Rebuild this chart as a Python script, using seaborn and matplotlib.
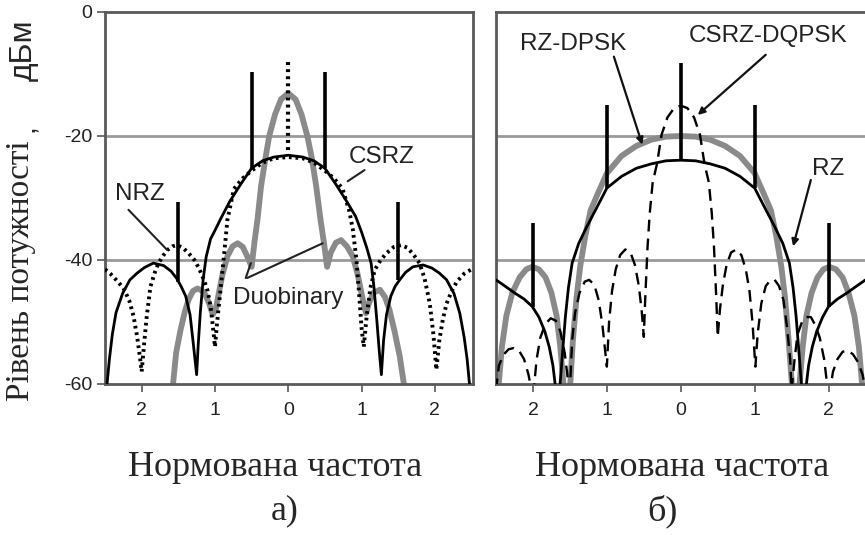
import numpy as np
import pandas as pd
import matplotlib
matplotlib.use("Agg")
import matplotlib.pyplot as plt
import seaborn as sns

# ---------------- data ----------------
# Panel a)
csrz_x = [-2.48, -2.44, -2.40, -2.35, -2.26, -2.16, -2.06, -1.96, -1.84, -1.70, -1.60, -1.52, -1.46, -1.40, -1.34, -1.30, -1.25,
          -1.23, -1.20, -1.16, -1.12, -1.06, -0.99, -0.92, -0.80, -0.65, -0.50, -0.35, -0.20, 0.00,
          0.20, 0.35, 0.50, 0.65, 0.80, 0.92, 1.00, 1.07, 1.13, 1.17, 1.21, 1.24, 1.27,
          1.30, 1.34, 1.40, 1.46, 1.52, 1.60, 1.70, 1.84, 1.96, 2.06, 2.16, 2.26, 2.34, 2.40, 2.44, 2.48]
csrz_y = [-61, -56, -52, -48.5, -45.4, -43.2, -42.1, -41.2, -40.5, -40.9, -41.8, -43.0, -44.3, -45.8, -48.8, -53, -58.5,
          -54, -48.5, -43, -39.5, -36.6, -35.0, -33.3, -30.6, -27.8, -25.2, -24.0, -23.4, -23.1,
          -23.4, -24.0, -25.2, -27.8, -30.6, -33.0, -35.5, -38.0, -40.5, -44.5, -50, -54.5, -58.5,
          -53, -48.8, -45.8, -44.2, -43.2, -42.0, -41.1, -40.8, -41.3, -42.1, -43.2, -45.4, -48.6, -52.5, -56, -61]
csrz_spike_x = [-1.5, -0.5, 0.5, 1.5]
csrz_spike_top = [-30.6, -9.6, -9.6, -30.6]
csrz_spike_bottom = [-43.5, -25.2, -25.2, -43.2]

nrz_x = [-2.50, -2.42, -2.34, -2.25, -2.17, -2.11, -2.06, -2.02, -2.00,
         -1.97, -1.93, -1.88, -1.82, -1.77, -1.70, -1.65, -1.58, -1.52, -1.44, -1.36, -1.28, -1.22, -1.15, -1.10, -1.06, -1.03, -1.00,
         -0.97, -0.92, -0.87, -0.83, -0.74, -0.62, -0.50, -0.35, -0.20, 0.00, 0.20, 0.35, 0.50, 0.62, 0.74, 0.83, 0.88, 0.93, 0.97, 1.00, 1.03,
         1.07, 1.12, 1.18, 1.26, 1.34, 1.44, 1.54, 1.62, 1.70, 1.79, 1.86, 1.93, 1.98, 2.02,
         2.06, 2.11, 2.16, 2.23, 2.30, 2.40, 2.53]
nrz_y = [-41.5, -42.3, -43.3, -44.5, -46.5, -49.1, -52.5, -56, -58,
         -54, -49, -44.3, -42, -40.5, -39.2, -38.4, -37.8, -37.6, -38, -38.9, -40, -41.3, -43.2, -45, -47.5, -50.5, -54,
         -50, -44.3, -38.5, -33.5, -28.5, -26.8, -25.6, -24.3, -23.6, -23.4, -23.6, -24.3, -25.6, -26.8, -28.5, -32, -35, -40, -46, -51, -54,
         -49, -44.5, -41.6, -40, -38.9, -37.9, -37.6, -38, -39, -40.5, -43, -47, -52, -57.7,
         -53, -49.5, -47, -45, -43.5, -42.2, -41.3]
nrz_spike_x = [0.0]
nrz_spike_top = [-7.4]
nrz_spike_bottom = [-22.2]

duo_x = [-1.58, -1.53, -1.47, -1.41, -1.36, -1.30, -1.24, -1.18, -1.13, -1.08, -1.03,
         -0.99, -0.95, -0.90, -0.83, -0.76, -0.69, -0.62, -0.56, -0.50,
         -0.46, -0.42, -0.37, -0.31, -0.26, -0.18, -0.10, 0.00, 0.10, 0.18, 0.26, 0.32, 0.38, 0.44, 0.49, 0.53,
         0.58, 0.65, 0.72, 0.80, 0.88, 0.95, 1.01, 1.06,
         1.10, 1.16, 1.25, 1.32, 1.38, 1.45, 1.52, 1.59]
duo_y = [-61, -55, -51.3, -48.3, -46.4, -45.0, -44.6, -44.9, -45.6, -47.0, -48.8,
         -48.0, -45.5, -42.5, -39.4, -37.8, -37.3, -37.9, -39.4, -41.1,
         -37, -33.5, -28, -23.5, -20, -16.5, -14.1, -13.1, -14.1, -16.5, -20, -23.5, -28, -33.5, -37.5, -41.1,
         -38.8, -37.2, -36.8, -37.8, -39.4, -42.5, -46.0, -48.6,
         -47.0, -45.3, -44.8, -46.0, -48.0, -51.5, -55.5, -61]

# Panel б)
rz_x = [-2.50, -2.38, -2.25, -2.12, -2.01, -1.92, -1.84, -1.78, -1.73, -1.69,
        -1.64, -1.60, -1.56, -1.52, -1.47, -1.38, -1.27, -1.13, -1.00, -0.80, -0.60, -0.40, -0.20, 0.00,
        0.20, 0.40, 0.60, 0.80, 1.00, 1.13, 1.27, 1.38, 1.47, 1.52, 1.56, 1.60, 1.64,
        1.69, 1.73, 1.78, 1.84, 1.92, 2.00, 2.12, 2.25, 2.38, 2.50]
rz_y = [-43.2, -44.2, -45.3, -46.3, -47.5, -49.2, -51.5, -54, -57, -61,
        -61, -55, -49, -44.5, -40.5, -37.3, -34.6, -31.4, -28.4, -26.5, -25.2, -24.5, -24.0, -23.9,
        -24.0, -24.5, -25.2, -26.5, -28.4, -31.4, -34.6, -37.3, -40.5, -44.5, -49, -55, -61,
        -61, -57, -54, -51.5, -49.2, -47.5, -46.3, -45.3, -44.2, -43.2]
rz_spike_x = [-2.0, -1.0, 0.0, 1.0, 2.0]
rz_spike_top = [-34.1, -15.0, -8.3, -15.0, -34.1]
rz_spike_bottom = [-47.5, -28.4, -23.9, -28.4, -47.5]

rzdpsk_x = [-2.47, -2.42, -2.36, -2.28, -2.18, -2.09, -2.01, -1.92, -1.83, -1.75, -1.68, -1.63, -1.58,
            -1.50, -1.46, -1.41, -1.36, -1.29, -1.22, -1.13, -1.00, -0.80, -0.60, -0.40, -0.20, 0.00,
            0.20, 0.40, 0.60, 0.80, 1.00, 1.13, 1.22, 1.29, 1.36, 1.41, 1.46, 1.51,
            1.60, 1.65, 1.70, 1.77, 1.85, 1.93, 2.01, 2.10, 2.19, 2.27, 2.35, 2.41, 2.46]
rzdpsk_y = [-61, -54, -49, -45.3, -42.8, -41.5, -41.1, -41.5, -42.8, -45.3, -49, -54, -61,
            -61, -53, -46, -41, -36, -32, -29.5, -26.0, -23.2, -21.6, -20.6, -20.1, -20.0,
            -20.1, -20.6, -21.6, -23.2, -26.0, -29.5, -32, -36, -41, -46, -53, -61,
            -61, -54, -49, -45.3, -42.8, -41.5, -41.1, -41.5, -42.8, -45.3, -49, -54, -61]

dq_x = [-2.50, -2.46, -2.40, -2.33, -2.26, -2.19, -2.12, -2.06, -2.02,
        -1.99, -1.95, -1.90, -1.83, -1.76, -1.69, -1.63, -1.57, -1.53, -1.50,
        -1.47, -1.43, -1.37, -1.30, -1.24, -1.17, -1.11, -1.06, -1.02, -1.00,
        -0.97, -0.93, -0.88, -0.82, -0.75, -0.68, -0.62, -0.57, -0.53, -0.50,
        -0.48, -0.45, -0.42, -0.38, -0.32, -0.26, -0.18, -0.09, 0.00, 0.09, 0.18, 0.26, 0.32, 0.38, 0.42, 0.45, 0.48, 0.50,
        0.53, 0.57, 0.62, 0.68, 0.75, 0.82, 0.88, 0.93, 0.97, 1.01,
        1.04, 1.09, 1.15, 1.21, 1.27, 1.33, 1.39, 1.44, 1.48, 1.50,
        1.54, 1.58, 1.64, 1.70, 1.76, 1.82, 1.88, 1.94, 1.99,
        2.02, 2.06, 2.12, 2.19, 2.26, 2.33, 2.40, 2.46, 2.50]
dq_y = [-61, -57, -55.3, -54.4, -54.2, -54.6, -56, -58.5, -61,
        -61, -56, -52.5, -50.3, -49.4, -49.8, -51.5, -55, -59, -61,
        -53, -48.5, -45.3, -43.5, -43.2, -44.0, -46.5, -50.5, -55, -57.2,
        -50, -45, -41.5, -39.2, -38.3, -38.8, -40.8, -44, -48, -52.4,
        -46, -38, -32.5, -27.5, -24.4, -19.8, -17.0, -15.5, -15.1, -15.5, -17.0, -19.8, -24.4, -27.5, -32.5, -38, -46, -52.4,
        -48, -44, -40.8, -38.8, -38.3, -39.2, -41.5, -45, -50, -57.2,
        -52, -47, -44.2, -43.3, -43.2, -44.2, -46.5, -51, -56, -61,
        -56, -52, -50, -49.2, -49.2, -50.5, -52.5, -56, -61,
        -61, -58, -56, -54.8, -54.6, -55.2, -56.5, -58.5, -61]

y_ticks = [0, -20, -40, -60]
x_ticks = [-2, -1, 0, 1, 2]
x_tick_labels = ["2", "1", "0", "1", "2"]

# ---------------- styling ----------------
sns.set_style("white")
plt.rcParams["font.family"] = ["Liberation Sans", "DejaVu Sans"]

W, H = 865, 535
fig = plt.figure(figsize=(W / 100, H / 100), dpi=100)

def box(l, t, r, b):
    return [l / W, 1 - b / H, (r - l) / W, (b - t) / H]

ax1 = fig.add_axes(box(105, 12, 473, 384))
ax2 = fig.add_axes(box(496, 12, 867, 384))

GRAY = "#8a8a8a"
FRAME = "#5a5a5a"

def style_axes(ax, show_y):
    ax.set_xlim(-2.5, 2.52)
    ax.set_ylim(-60, 0)
    for y in (-20, -40):
        ax.axhline(y, color="#9a9a9a", lw=2.0, zorder=0)
    for s in ax.spines.values():
        s.set_color(FRAME)
        s.set_linewidth(2.0)
    ax.set_xticks(x_ticks)
    ax.set_xticklabels(x_tick_labels)
    ax.tick_params(axis="x", direction="out", length=6, width=1.2, color=FRAME,
                   labelsize=14, pad=7, bottom=True, labelcolor="#222222")
    if show_y:
        ax.set_yticks(y_ticks)
        ax.set_yticklabels([str(v) for v in y_ticks])
        ax.tick_params(axis="y", direction="out", length=6, width=1.2, color=FRAME,
                       labelsize=14, pad=3, left=True, labelcolor="#222222")
    else:
        ax.set_yticks([])
    ax.set_xlabel("")
    ax.set_ylabel("")

def curve(ax, xs, ys, **kw):
    df = pd.DataFrame({"x": xs, "y": ys})
    sns.lineplot(data=df, x="x", y="y", ax=ax, sort=False, estimator=None, **kw)

# ---- panel a
curve(ax1, duo_x, duo_y, color=GRAY, lw=4.2, zorder=2, solid_capstyle="butt")
curve(ax1, nrz_x, nrz_y, color="black", lw=2.8, linestyle=(0, (0.7, 1.0)), zorder=3)
curve(ax1, csrz_x, csrz_y, color="black", lw=2.0, zorder=4)
ax1.vlines(csrz_spike_x, csrz_spike_bottom, csrz_spike_top, color="black", lw=2.6, zorder=5)
ax1.vlines(nrz_spike_x, nrz_spike_bottom, nrz_spike_top, color="black", lw=3.0,
           linestyle=(0, (0.7, 1.0)), zorder=5)
style_axes(ax1, True)

tk = dict(fontsize=17.5, color="#222222", ha="center", va="center", zorder=6)
ax1.text(-2.03, -29.3, "NRZ", **tk)
ax1.text(1.27, -23.4, "CSRZ", **tk)
ax1.text(0.0, -46.2, "Duobinary", **tk)
ln = dict(color="#222222", lw=1.5, zorder=6)
ax1.plot([-2.18, -1.65], [-31.9, -38.4], **ln)
ax1.plot([1.04, 0.81], [-25.5, -27.3], **ln)
ax1.plot([-0.58, -0.51], [-42.9, -40.5], **ln)
ax1.plot([-0.56, 0.47], [-42.9, -37.3], **ln)

# ---- panel б
curve(ax2, rzdpsk_x, rzdpsk_y, color=GRAY, lw=4.2, zorder=2)
curve(ax2, dq_x, dq_y, color="black", lw=1.7, linestyle=(0, (5, 3)), zorder=3)
curve(ax2, rz_x, rz_y, color="black", lw=2.0, zorder=4)
ax2.vlines(rz_spike_x, rz_spike_bottom, rz_spike_top, color="black", lw=2.6, zorder=5)
style_axes(ax2, False)

ax2.text(-1.45, -5.2, "RZ-DPSK", **tk)
ax2.text(1.18, -3.9, "CSRZ-DQPSK", **tk)
ax2.text(1.99, -25.3, "RZ", **tk)
ap = dict(arrowstyle="-|>", color="#111111", lw=1.6, mutation_scale=10, shrinkA=0, shrinkB=0)
ax2.annotate("", xy=(-0.52, -21.4), xytext=(-0.905, -7.2), arrowprops=ap, zorder=6)
ax2.annotate("", xy=(0.23, -16.6), xytext=(1.15, -6.9), arrowprops=ap, zorder=6)
ax2.annotate("", xy=(1.52, -37.8), xytext=(1.76, -27.1), arrowprops=ap, zorder=6)

# ---- figure-level texts
serif = ["Liberation Serif", "DejaVu Serif"]
sans = ["Liberation Sans", "DejaVu Sans"]
fig.text(275 / W, 1 - 467 / H, "Нормована частота", family=serif, fontsize=26,
         ha="center", va="center")
fig.text(682 / W, 1 - 467 / H, "Нормована частота", family=serif, fontsize=26,
         ha="center", va="center")
fig.text(285 / W, 1 - 511 / H, "а)", family=serif, fontsize=26, ha="center", va="center")
fig.text(662 / W, 1 - 511 / H, "б)", family=serif, fontsize=26, ha="center", va="center")
fig.text(21 / W, 1 - 140 / H, "Рівень потужності", family=serif, fontsize=24,
         rotation=90, ha="center", va="top")
fig.text(24 / W, 1 - 19 / H, "дБм", family=sans, fontsize=23,
         rotation=90, ha="center", va="top")
fig.text(27 / W, 1 - 128 / H, ",", family=sans, fontsize=20,
         rotation=90, ha="center", va="center")

fig.savefig("out.png", dpi=100)
